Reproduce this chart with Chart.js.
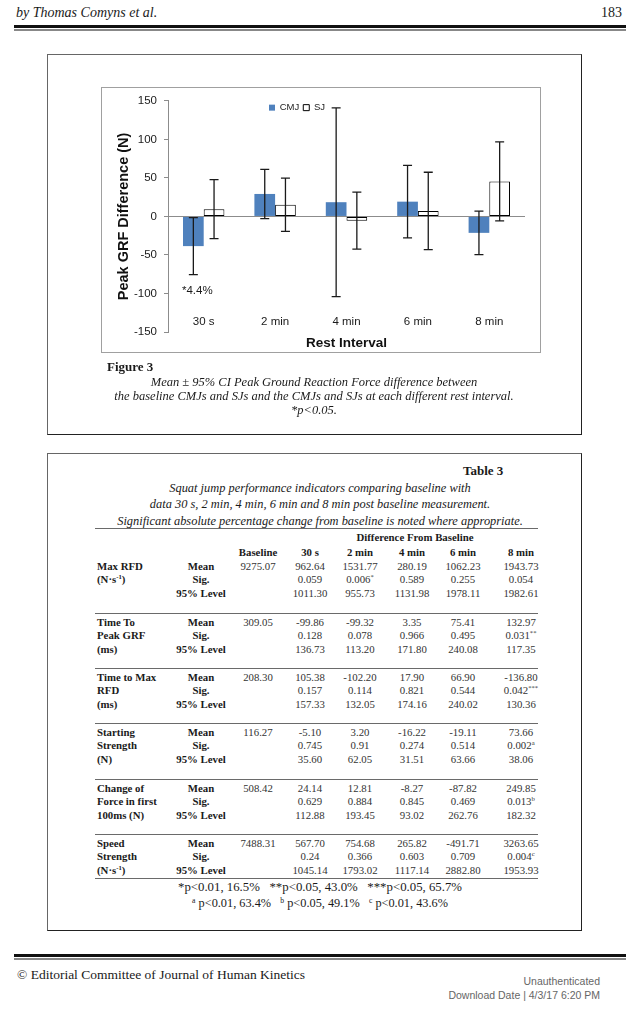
<!DOCTYPE html>
<html><head><meta charset="utf-8">
<script src="https://cdn.jsdelivr.net/npm/chart.js@4/dist/chart.umd.min.js"></script>
<style>
html,body{margin:0;padding:0;background:#fff;}
body{width:637px;height:1026px;position:relative;overflow:hidden;font-family:"Liberation Serif",serif;color:#1a1a1a;}
.t{position:absolute;white-space:nowrap;line-height:1;transform:translateY(-50%);}
.c{transform:translate(-50%,-50%);}
.r{transform:translate(-100%,-50%);}
.i{font-style:italic;}
.b{font-weight:bold;}
.rule{position:absolute;}
.box{position:absolute;box-sizing:border-box;border:1.5px solid #666;border-right-color:#222;border-bottom-color:#222;}
sup{font-size:0.62em;vertical-align:0.5em;line-height:0;}
#tbl .t{font-size:10.8px;}
#tbl .v{color:#333;}
</style></head>
<body>
<div class="t i" style="left:16px;top:13px;font-size:14px;">by Thomas Comyns et al.</div>
<div class="t r" style="left:622px;top:13px;font-size:14px;">183</div>
<div class="rule" style="left:14px;top:25px;width:612px;height:3px;background:#111;"></div>
<div class="rule" style="left:14px;top:29px;width:612px;height:1.5px;background:#888;"></div>

<div class="box" style="left:47px;top:54px;width:535px;height:381px;"></div>
<div style="position:absolute;left:101px;top:87px;width:440px;height:266px;">
  <canvas id="c" width="440" height="266"></canvas>
</div>
<div style="position:absolute;left:101px;top:87px;width:440px;height:266px;box-sizing:border-box;border:1px solid #a0a0a0;pointer-events:none;"></div>

<div class="t b" style="left:107px;top:366px;font-size:13px;">Figure 3</div>
<div class="t c i" style="left:314px;top:382px;font-size:12.5px;">Mean ± 95% CI Peak Ground Reaction Force difference between</div>
<div class="t c i" style="left:314px;top:396px;font-size:12.5px;">the baseline CMJs and SJs and the CMJs and SJs at each different rest interval.</div>
<div class="t c i" style="left:314px;top:410px;font-size:12.5px;">*p&lt;0.05.</div>

<div class="box" style="left:47px;top:453px;width:535px;height:478px;"></div>
<div id="tbl"></div>

<div class="rule" style="left:14px;top:954px;width:612px;height:3px;background:#111;"></div>
<div class="rule" style="left:14px;top:958px;width:612px;height:1.5px;background:#888;"></div>
<div class="t" style="left:17px;top:975px;font-size:13.5px;">© Editorial Committee of Journal of Human Kinetics</div>
<div class="t r" style="left:600px;top:981px;font-size:10.5px;font-family:'Liberation Sans',sans-serif;color:#666;">Unauthenticated</div>
<div class="t r" style="left:600px;top:995px;font-size:10.5px;font-family:'Liberation Sans',sans-serif;color:#666;">Download Date | 4/3/17 6:20 PM</div>

<script>
// ---------- Chart data ----------
const categories = ['30 s', '2 min', '4 min', '6 min', '8 min'];
const cmjMean = [-38.5, 29.2, 18.5, 19.2, -21.3];
const cmjCI   = [37.0, 32.0, 122.5, 47.0, 28.2];
const sjMean  = [9.5, 15.2, -5.5, 7.2, 45.5];
const sjCI    = [38.2, 34.5, 37.0, 50.2, 51.2];
const yTickValues = [-150, -100, -50, 0, 50, 100, 150];
const noteText = '*4.4%';
const noteValue = -97;

// ---------- Table data ----------
const tableTitle = 'Table 3';
const tableCaption = [
  'Squat jump performance indicators comparing baseline with',
  'data 30 s, 2 min, 4 min, 6 min and 8 min post baseline measurement.',
  'Significant absolute percentage change from baseline is noted where appropriate.'
];
const tableGroupHeader = 'Difference From Baseline';
const tableColumns = ['Baseline', '30 s', '2 min', '4 min', '6 min', '8 min'];
const statLabels = ['Mean', 'Sig.', '95% Level'];
const rowLabels = [
  ['Max RFD', '(N·s<sup>-1</sup>)'],
  ['Time To', 'Peak GRF', '(ms)'],
  ['Time to Max', 'RFD', '(ms)'],
  ['Starting', 'Strength', '(N)'],
  ['Change of', 'Force in first', '100ms (N)'],
  ['Speed', 'Strength', '(N·s<sup>-1</sup>)']
];
const baselineVals = ['9275.07', '309.05', '208.30', '116.27', '508.42', '7488.31'];
const meanVals = [
  ['962.64', '1531.77', '280.19', '1062.23', '1943.73'],
  ['-99.86', '-99.32', '3.35', '75.41', '132.97'],
  ['105.38', '-102.20', '17.90', '66.90', '-136.80'],
  ['-5.10', '3.20', '-16.22', '-19.11', '73.66'],
  ['24.14', '12.81', '-8.27', '-87.82', '249.85'],
  ['567.70', '754.68', '265.82', '-491.71', '3263.65']
];
const sigVals = [
  ['0.059', '0.006^*', '0.589', '0.255', '0.054'],
  ['0.128', '0.078', '0.966', '0.495', '0.031^**'],
  ['0.157', '0.114', '0.821', '0.544', '0.042^***'],
  ['0.745', '0.91', '0.274', '0.514', '0.002^a'],
  ['0.629', '0.884', '0.845', '0.469', '0.013^b'],
  ['0.24', '0.366', '0.603', '0.709', '0.004^c']
];
const levelVals = [
  ['1011.30', '955.73', '1131.98', '1978.11', '1982.61'],
  ['136.73', '113.20', '171.80', '240.08', '117.35'],
  ['157.33', '132.05', '174.16', '240.02', '130.36'],
  ['35.60', '62.05', '31.51', '63.66', '38.06'],
  ['112.88', '193.45', '93.02', '262.76', '182.32'],
  ['1045.14', '1793.02', '1117.14', '2882.80', '1953.93']
];
const footnotes = [
  '*p&lt;0.01, 16.5% &nbsp;&nbsp;**p&lt;0.05, 43.0% &nbsp;&nbsp;***p&lt;0.05, 65.7%',
  '<sup>a</sup> p&lt;0.01, 63.4% &nbsp;&nbsp;<sup>b</sup> p&lt;0.05, 49.1% &nbsp;&nbsp;<sup>c</sup> p&lt;0.01, 43.6%'
];

// ---------- Table layout ----------
(function buildTable(){
  const host = document.getElementById('tbl');
  function add(html, x, y, cls, style){
    const d = document.createElement('div');
    d.className = 't ' + (cls || '');
    d.style.left = x + 'px'; d.style.top = y + 'px';
    if (style) d.style.cssText += style;
    d.innerHTML = html;
    host.appendChild(d);
  }
  function rule(y){
    const d = document.createElement('div');
    d.className = 'rule';
    d.style.cssText = 'left:95px;width:443px;height:1.4px;background:#6a6a6a;top:' + y + 'px;';
    host.appendChild(d);
  }
  const sup = s => s.replace(/\^(.+)$/, '<sup>$1</sup>');
  add(tableTitle, 463, 470, 'b', 'font-size:13px;');
  const capY = [488, 504, 521];
  tableCaption.forEach((l, i) => add(l, 320, capY[i], 'c i', 'font-size:12.4px;'));
  rule(528);
  add(tableGroupHeader, 415, 537, 'c b');
  const colX = [258, 310, 360, 412, 463, 521];
  const statX = 201;
  tableColumns.forEach((c, i) => add(c, colX[i], 552, 'c b'));
  const blockY = [566, 622, 677, 732, 788, 843];
  const rowGap = 13.4;
  blockY.forEach((by, g) => {
    if (g > 0) rule(by - 9);
    rowLabels[g].forEach((l, k) => add(l, 97, by + k * rowGap, 'b'));
    statLabels.forEach((s, k) => add(s, statX, by + k * rowGap, 'c b'));
    add(baselineVals[g], colX[0], by, 'c v');
    for (let j = 0; j < 5; j++) {
      add(meanVals[g][j], colX[j + 1], by, 'c v');
      add(sup(sigVals[g][j]), colX[j + 1], by + rowGap, 'c v');
      add(levelVals[g][j], colX[j + 1], by + 2 * rowGap, 'c v');
    }
  });
  rule(878);
  add(footnotes[0], 320, 887, 'c', 'font-size:12.8px;');
  add(footnotes[1], 320, 903, 'c', 'font-size:12.3px;');
})();

// ---------- Chart ----------
const errorBars = {
  id: 'errorBars',
  afterDatasetsDraw(chart) {
    const ctx = chart.ctx, y = chart.scales.y;
    chart.data.datasets.forEach((ds, i) => {
      const meta = chart.getDatasetMeta(i);
      meta.data.forEach((bar, j) => {
        const m = ds.data[j], e = ds.ci[j];
        const yt = y.getPixelForValue(m + e), yb = y.getPixelForValue(m - e);
        ctx.save();
        ctx.strokeStyle = '#1a1a1a'; ctx.lineWidth = 1.3;
        ctx.beginPath();
        ctx.moveTo(bar.x, yt); ctx.lineTo(bar.x, yb);
        ctx.moveTo(bar.x - 4.5, yt); ctx.lineTo(bar.x + 4.5, yt);
        ctx.moveTo(bar.x - 4.5, yb); ctx.lineTo(bar.x + 4.5, yb);
        ctx.stroke();
        ctx.restore();
      });
    });
    const b0 = chart.getDatasetMeta(0).data[0];
    ctx.save();
    ctx.fillStyle = '#1a1a1a';
    ctx.font = '11.5px "Liberation Sans", Arial, sans-serif';
    ctx.textAlign = 'center'; ctx.textBaseline = 'middle';
    ctx.fillText(noteText, b0.x + 4, y.getPixelForValue(noteValue));
    ctx.restore();
  }
};
const legendPlace = {
  id: 'legendPlace',
  beforeLayout(chart) {
    const lg = chart.legend;
    if (lg && !lg._patched) {
      const f = lg.fit;
      lg.fit = function(){ f.call(this); this.height = 0; };
      lg._patched = true;
    }
  },
  afterLayout(chart) {
    const lg = chart.legend, ca = chart.chartArea;
    const w = lg.right - lg.left;
    lg.left = ca.left + 101 - 4;
    lg.right = lg.left + w;
    lg.top = ca.top - 2;
    lg.height = 18;
    lg.bottom = lg.top + 18;
  }
};

new Chart(document.getElementById('c'), {
  type: 'bar',
  data: {
    labels: categories,
    datasets: [
      { label: 'CMJ', data: cmjMean, ci: cmjCI, backgroundColor: '#4F81BD', borderWidth: 0 },
      { label: 'SJ', data: sjMean, ci: sjCI, backgroundColor: '#ffffff', borderColor: '#000000', borderWidth: 1, borderSkipped: false }
    ]
  },
  options: {
    responsive: false,
    animation: false,
    layout: { padding: { top: 9, right: 16, bottom: 2, left: 14 } },
    datasets: { bar: { categoryPercentage: 0.58, barPercentage: 1.0 } },
    plugins: {
      tooltip: { enabled: false },
      legend: {
        position: 'top', align: 'start',
        labels: { font: { family: 'Liberation Sans', size: 9.5 }, color: '#222', boxWidth: 6, boxHeight: 6, padding: 4 }
      }
    },
    scales: {
      x: {
        grid: { display: false, drawTicks: false },
        border: { display: false },
        ticks: { mirror: true, padding: 3, color: '#1a1a1a', font: { family: 'Liberation Sans', size: 11.5 }, maxRotation: 0, minRotation: 0, autoSkip: false },
        title: { display: true, text: 'Rest Interval', color: '#111', font: { family: 'Liberation Sans', size: 13.5, weight: 'bold' }, padding: { top: 0, bottom: 0 } },
        afterFit: s => { s.height = 19; }
      },
      y: {
        min: -150, max: 150,
        afterBuildTicks: s => { s.ticks = yTickValues.map(v => ({ value: v })); },
        ticks: { padding: 7, color: '#1a1a1a', font: { family: 'Liberation Sans', size: 11.5 } },
        grid: { color: c => (c.tick && c.tick.value === 0) ? '#8c8c8c' : 'rgba(0,0,0,0)', tickColor: '#8c8c8c', tickLength: 4, lineWidth: 1 },
        border: { display: true, color: '#8c8c8c' },
        title: { display: true, text: 'Peak GRF Difference (N)', color: '#111', font: { family: 'Liberation Sans', size: 14.5, weight: 'bold' }, padding: { top: 0, bottom: 0 } },
        afterFit: s => { s.width = 53; }
      }
    }
  },
  plugins: [errorBars, legendPlace]
});
</script>
</body></html>
